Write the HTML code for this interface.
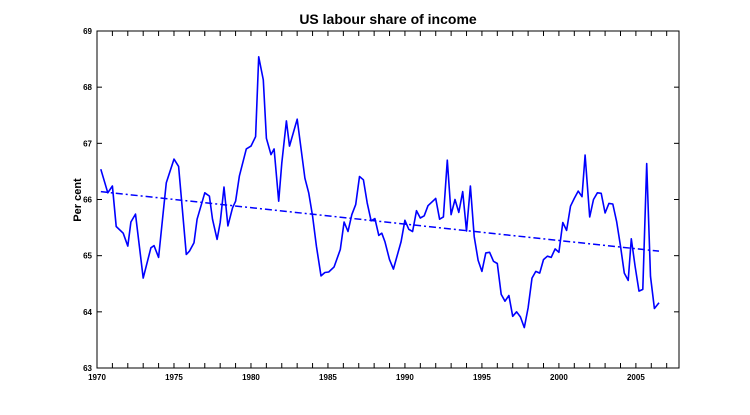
<!DOCTYPE html>
<html><head><meta charset="utf-8"><style>
body{margin:0;background:#fff}
svg{display:block;font-family:"Liberation Sans",Arial,sans-serif}
</style></head><body>
<svg id="chart" width="750" height="415" viewBox="0 0 750 415"></svg>
<script>
const years=[1970.25,1970.7,1971.0,1971.25,1971.7,1972.0,1972.2,1972.5,1973.0,1973.5,1973.7,1974.0,1974.3,1974.5,1975.0,1975.3,1975.8,1976.0,1976.3,1976.5,1977.0,1977.3,1977.5,1977.8,1978.0,1978.25,1978.5,1978.8,1979.0,1979.25,1979.7,1980.0,1980.3,1980.5,1980.8,1981.0,1981.3,1981.5,1981.8,1982.0,1982.3,1982.5,1983.0,1983.5,1983.75,1984.0,1984.25,1984.55,1984.8,1985.05,1985.4,1985.8,1986.05,1986.3,1986.55,1986.8,1987.05,1987.3,1987.55,1987.8,1988.05,1988.3,1988.5,1988.7,1989.0,1989.25,1989.75,1990.0,1990.25,1990.5,1990.75,1991.0,1991.25,1991.5,1992.0,1992.25,1992.5,1992.75,1993.0,1993.25,1993.5,1993.75,1994.0,1994.25,1994.5,1994.75,1995.0,1995.25,1995.5,1995.75,1996.0,1996.25,1996.5,1996.75,1997.0,1997.25,1997.5,1997.75,1998.0,1998.25,1998.5,1998.75,1999.0,1999.25,1999.5,1999.75,2000.0,2000.25,2000.5,2000.75,2001.0,2001.25,2001.5,2001.7,2002.0,2002.25,2002.5,2002.75,2003.0,2003.25,2003.5,2003.75,2004.0,2004.25,2004.5,2004.7,2004.95,2005.2,2005.45,2005.7,2005.95,2006.2,2006.5];
const share=[66.54,66.12,66.24,65.52,65.4,65.17,65.6,65.74,64.6,65.14,65.18,64.97,65.77,66.3,66.72,66.59,65.02,65.08,65.23,65.65,66.12,66.06,65.65,65.29,65.59,66.22,65.53,65.85,65.97,66.42,66.9,66.95,67.12,68.54,68.13,67.09,66.8,66.9,65.97,66.65,67.4,66.95,67.43,66.38,66.12,65.7,65.17,64.64,64.7,64.71,64.8,65.11,65.6,65.43,65.73,65.91,66.41,66.35,65.94,65.62,65.66,65.36,65.4,65.25,64.93,64.76,65.25,65.63,65.47,65.43,65.8,65.67,65.71,65.89,66.02,65.65,65.69,66.7,65.73,66.0,65.77,66.14,65.44,66.24,65.34,64.92,64.72,65.05,65.06,64.9,64.86,64.31,64.19,64.29,63.92,64.0,63.91,63.72,64.07,64.6,64.72,64.69,64.93,64.99,64.97,65.12,65.06,65.59,65.45,65.88,66.02,66.15,66.05,66.79,65.69,66.0,66.12,66.11,65.76,65.93,65.92,65.61,65.17,64.69,64.56,65.3,64.81,64.37,64.4,66.64,64.63,64.06,64.16];
const trendYears=[1970.25,2006.5];
const trendVals=[66.14,65.08];
const xTicks=[1970,1975,1980,1985,1990,1995,2000,2005];
const yTicks=[63,64,65,66,67,68,69];

const NS="http://www.w3.org/2000/svg";
const svg=document.getElementById('chart');
const L=97,R=679,T=31,B=368,X0=1970,X1=2007.8,Y0=63,Y1=69;
const sx=v=>L+(v-X0)/(X1-X0)*(R-L);
const sy=v=>B-(v-Y0)/(Y1-Y0)*(B-T);
function mk(tag,attrs){const e=document.createElementNS(NS,tag);for(const k in attrs)e.setAttribute(k,attrs[k]);svg.appendChild(e);return e;}

const frame=mk('rect',{x:L,y:T,width:R-L,height:B-T,fill:'none',stroke:'#000','stroke-width':1});



for(let y=1971;y<=2007;y++){
  const t1=mk('line',{x1:sx(y),x2:sx(y),y1:B,y2:B-5,stroke:'#000','stroke-width':1});
  
  
  const t2=mk('line',{x1:sx(y),x2:sx(y),y1:T,y2:T+5,stroke:'#000','stroke-width':1});
  
  
}
xTicks.forEach(v=>{
  const t=mk('text',{x:sx(v),y:B+12,'font-size':8,'font-weight':'bold','text-anchor':'middle'});
  t.textContent=v;
  
  
});
yTicks.forEach(v=>{
  const a=mk('line',{x1:L,x2:L+5,y1:sy(v),y2:sy(v),stroke:'#000'});
  
  
  const b=mk('line',{x1:R,x2:R-5,y1:sy(v),y2:sy(v),stroke:'#000'});
  
  
  const t=mk('text',{x:L-5,y:sy(v)+3,'font-size':8,'font-weight':'bold','text-anchor':'end'});
  t.textContent=v;
  
  
});

const title=mk('text',{x:388,y:24,'font-size':14,'font-weight':'bold','text-anchor':'middle'});
title.textContent='US labour share of income';



const yl=mk('text',{x:0,y:0,'font-size':11,'font-weight':'bold','text-anchor':'middle',transform:'translate(81,200) rotate(-90)'});
yl.textContent='Per cent';



const trend=mk('polyline',{points:trendYears.map((y,i)=>sx(y)+','+sy(trendVals[i])).join(' '),fill:'none',stroke:'#0000ff','stroke-width':1.5,'stroke-dasharray':'7,3,2,3'});



const line=mk('polyline',{points:years.map((y,i)=>sx(y).toFixed(1)+','+sy(share[i]).toFixed(1)).join(' '),fill:'none',stroke:'#0000ff','stroke-width':1.6,'stroke-linejoin':'round'});


</script>
</body></html>
